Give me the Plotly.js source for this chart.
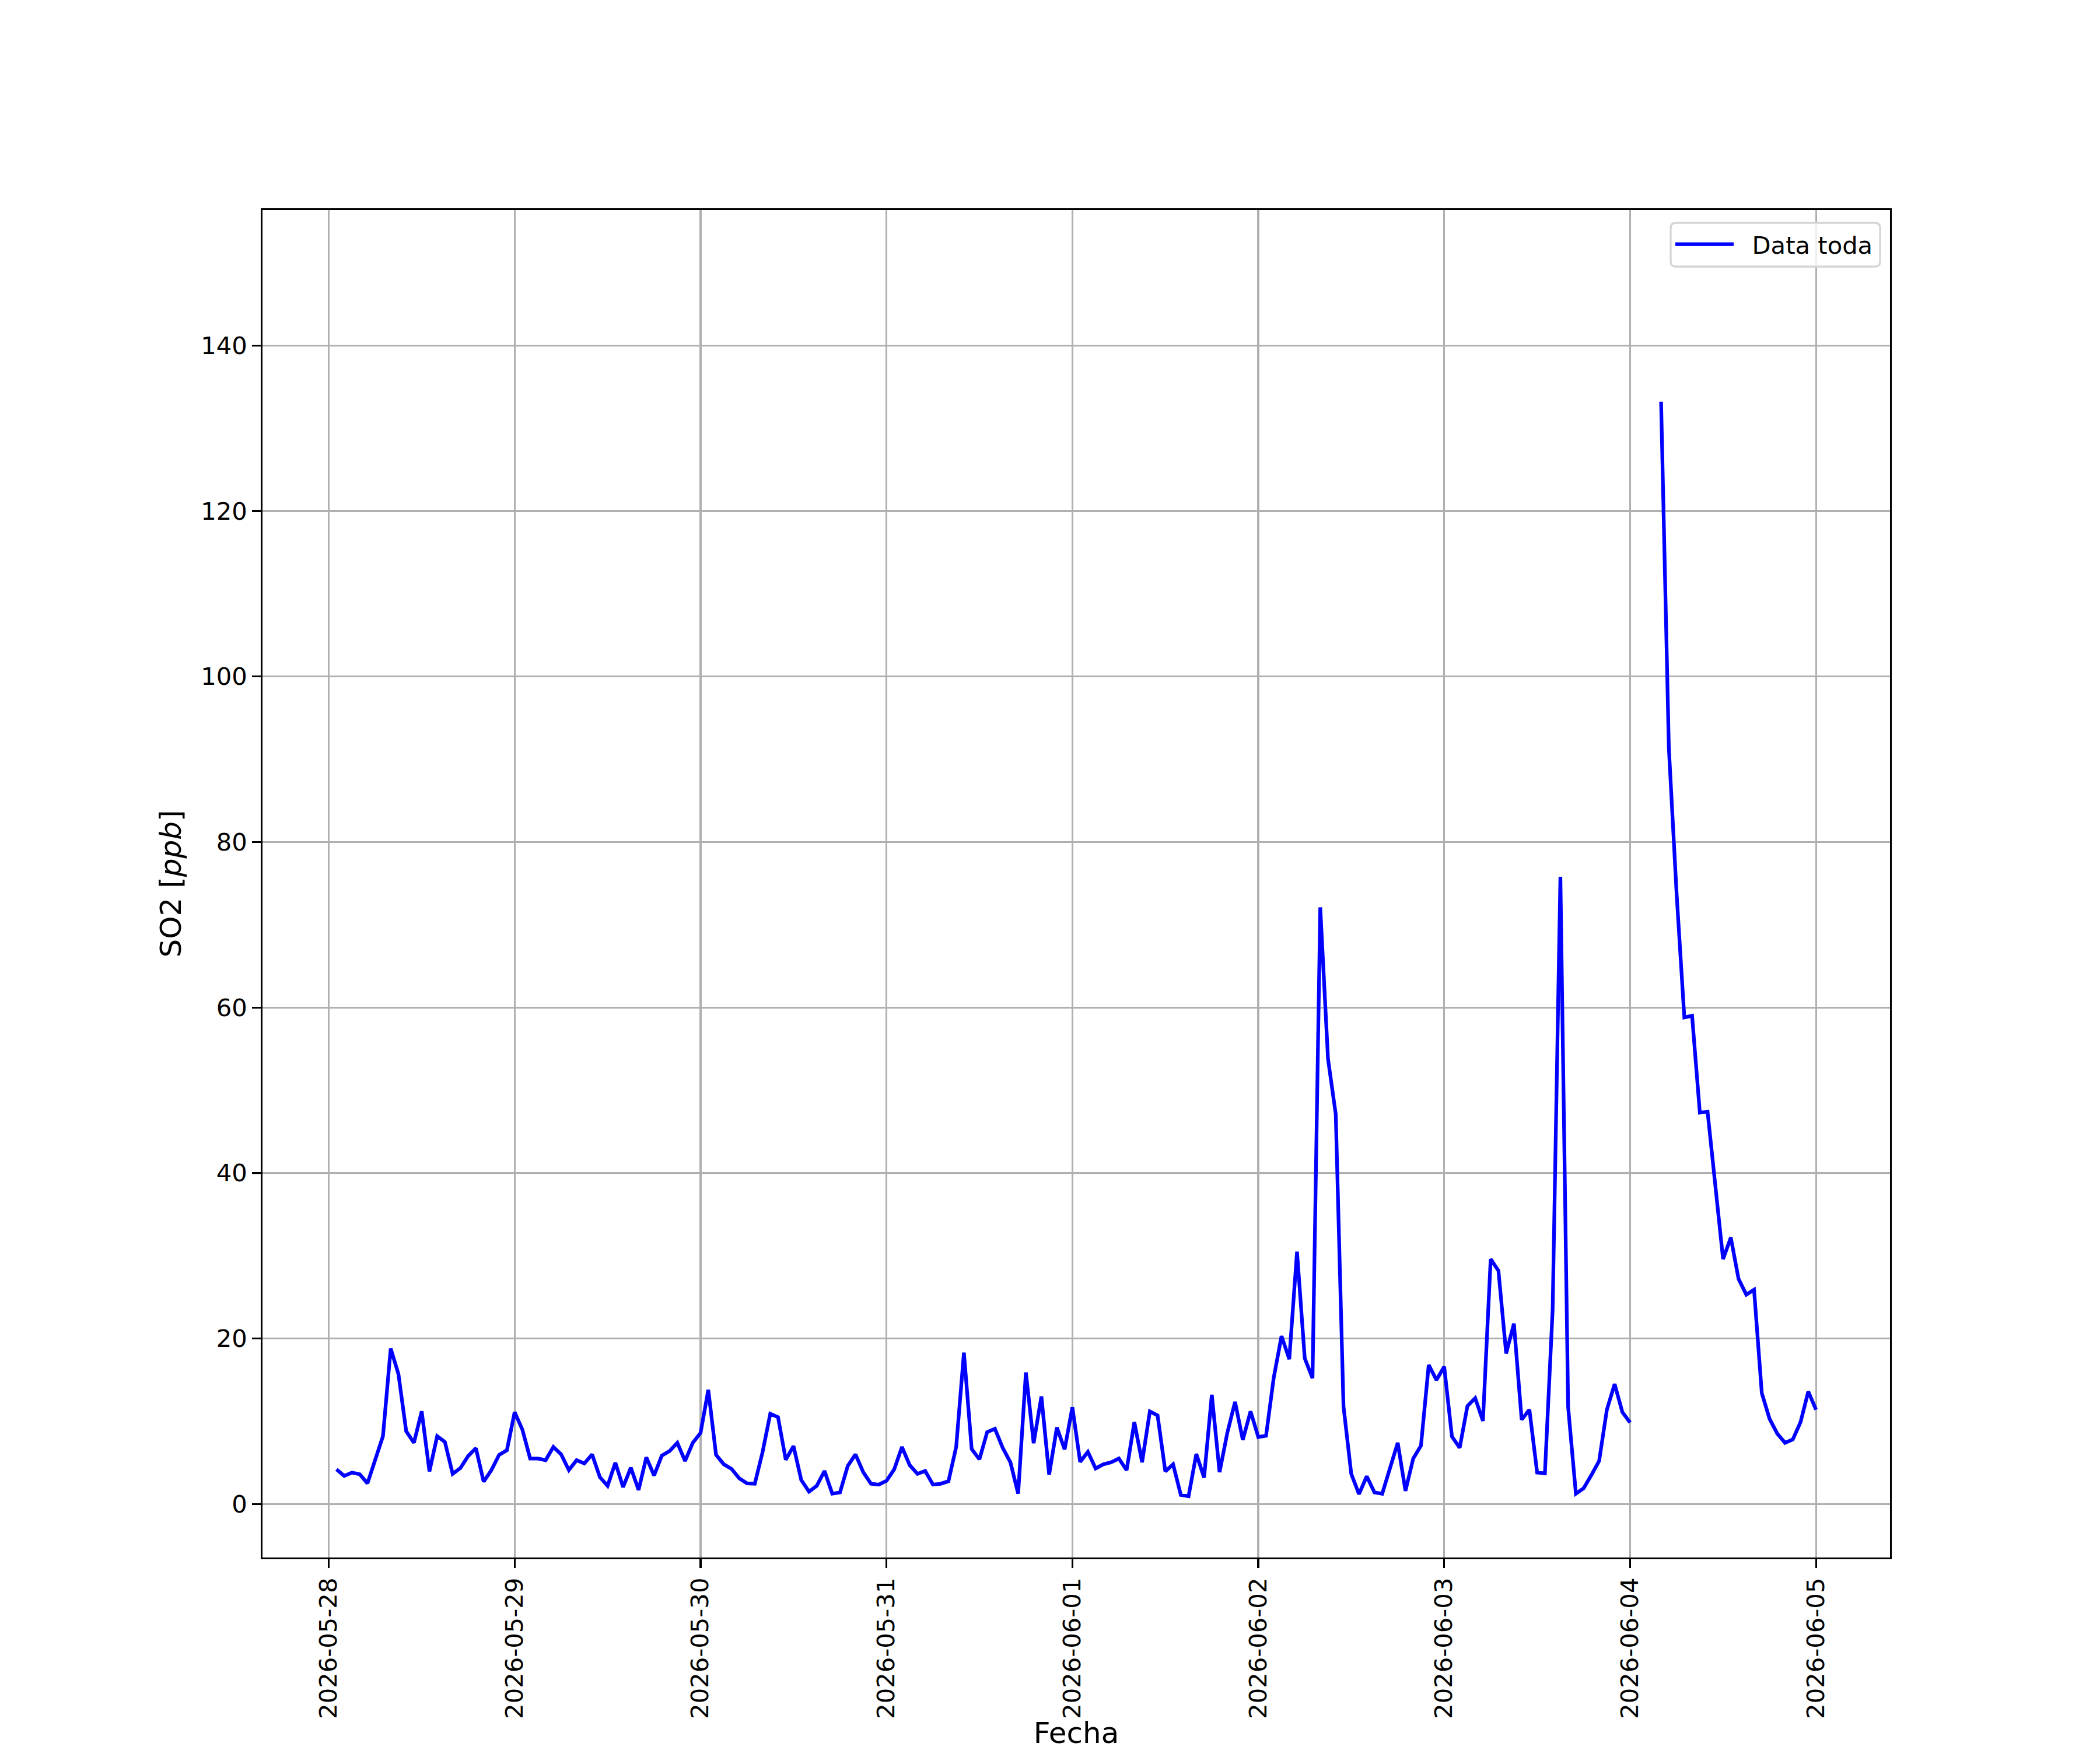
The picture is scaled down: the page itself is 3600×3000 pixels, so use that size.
<!DOCTYPE html>
<html>
<head>
<meta charset="utf-8">
<script src="https://cdn.plot.ly/plotly-3.0.1.min.js"></script>
<style>
  html, body { margin: 0; padding: 0; background: #ffffff; }
  #chart { width: 3600px; height: 3000px; }
</style>
</head>
<body>
<div id="chart"></div>
<script>
// Hourly SO2 readings [ppb]; first value is 2026-05-28 01:00, one value per hour.
const seriesStart = '2026-05-28T01:00:00';
const so2_0528 = [4.2, 3.4, 3.8, 3.6, 2.5, 5.5, 8.2, 18.8, 15.7, 8.8, 7.4, 11.2, 3.95, 8.2, 7.5, 3.65, 4.35, 5.8, 6.75, 2.7, 4.1, 5.95, 6.5];
const so2_0529 = [11.1, 9.0, 5.5, 5.5, 5.3, 6.9, 6.0, 4.1, 5.3, 4.9, 6.0, 3.25, 2.2, 5.0, 2.05, 4.4, 1.7, 5.65, 3.45, 5.85, 6.4, 7.4, 5.2, 7.4];
const so2_0530 = [8.6, 13.8, 5.95, 4.8, 4.25, 3.1, 2.5, 2.45, 6.25, 10.9, 10.5, 5.35, 7.0, 2.9, 1.5, 2.2, 4.0, 1.25, 1.4, 4.6, 6.0, 3.85, 2.45, 2.35];
const so2_0531 = [2.8, 4.2, 6.9, 4.7, 3.65, 4.0, 2.35, 2.45, 2.75, 6.9, 18.3, 6.65, 5.4, 8.7, 9.1, 6.8, 5.05, 1.25, 15.9, 7.35, 13.0, 3.55, 9.25, 6.6];
const so2_0601 = [11.7, 5.1, 6.3, 4.3, 4.8, 5.05, 5.5, 4.1, 9.9, 5.05, 11.2, 10.7, 3.95, 4.8, 1.1, 0.95, 6.05, 3.2, 13.2, 3.85, 8.6, 12.35, 7.75, 11.2];
const so2_0602 = [8.1, 8.25, 15.3, 20.3, 17.5, 30.5, 17.6, 15.2, 72.1, 53.8, 47.1, 11.8, 3.65, 1.2, 3.35, 1.4, 1.25, 4.45, 7.4, 1.6, 5.5, 7.05, 16.8, 15.0];
const so2_0603 = [16.6, 8.15, 6.8, 11.85, 12.8, 10.05, 29.6, 28.2, 18.2, 21.8, 10.2, 11.4, 3.8, 3.7, 23.5, 75.8, 11.7, 1.25, 1.9, 3.5, 5.2, 11.4, 14.5, 11.1];
const so2_0604 = [9.85, null, null, null, 133.2, 91.4, 73.8, 58.8, 59.0, 47.3, 47.4, 38.5, 29.6, 32.2, 27.2, 25.3, 25.9, 13.4, 10.3, 8.5, 7.4, 7.8, 9.9, 13.6];
const so2_0605 = [11.4];

const tickDates = ['2026-05-28', '2026-05-29', '2026-05-30', '2026-05-31', '2026-06-01', '2026-06-02', '2026-06-03', '2026-06-04', '2026-06-05'];
const yTicks = [0, 20, 40, 60, 80, 100, 120, 140];

const values = [].concat(so2_0528, so2_0529, so2_0530, so2_0531, so2_0601, so2_0602, so2_0603, so2_0604, so2_0605);

function pad(n) { return (n < 10 ? '0' : '') + n; }
const t0 = new Date(seriesStart + 'Z').getTime();
const times = values.map(function (_, i) {
  const d = new Date(t0 + i * 3600000);
  return d.getUTCFullYear() + '-' + pad(d.getUTCMonth() + 1) + '-' + pad(d.getUTCDate()) +
         ' ' + pad(d.getUTCHours()) + ':00:00';
});

const FONT = 'DejaVu Sans, Liberation Sans, sans-serif';
const FS = 41.7;     // tick / legend text
const FS_LAB = 50;   // axis labels

// plot-area geometry (px) used to place the legend frame
const PW = 2790, PH = 2310;
function px2x(p) { return (p - 450) / PW; }
function px2y(p) { return 1 - (p - 360) / PH; }

// rounded legend frame
const bx0 = px2x(2864), bx1 = px2x(3223), by0 = px2y(457), by1 = px2y(382);
const rx = 9 / PW, ry = 9 / PH;
const framePath =
  'M' + (bx0 + rx) + ',' + by1 +
  ' L' + (bx1 - rx) + ',' + by1 +
  ' Q' + bx1 + ',' + by1 + ' ' + bx1 + ',' + (by1 - ry) +
  ' L' + bx1 + ',' + (by0 + ry) +
  ' Q' + bx1 + ',' + by0 + ' ' + (bx1 - rx) + ',' + by0 +
  ' L' + (bx0 + rx) + ',' + by0 +
  ' Q' + bx0 + ',' + by0 + ' ' + bx0 + ',' + (by0 + ry) +
  ' L' + bx0 + ',' + (by1 - ry) +
  ' Q' + bx0 + ',' + by1 + ' ' + (bx0 + rx) + ',' + by1 + ' Z';

const trace = {
  x: times,
  y: values,
  type: 'scatter',
  mode: 'lines',
  name: '\u00a0\u00a0Data toda',
  connectgaps: false,
  line: { color: '#0000ff', width: 6.25 }
};

const layout = {
  width: 3600,
  height: 3000,
  margin: { l: 450, r: 360, t: 360, b: 330, pad: 0 },
  paper_bgcolor: '#ffffff',
  plot_bgcolor: '#ffffff',
  font: { family: FONT, size: FS, color: '#000000' },
  showlegend: true,
  legend: {
    x: px2x(2867),
    y: px2y(419),
    xanchor: 'left',
    yanchor: 'middle',
    bgcolor: 'rgba(255,255,255,0)',
    borderwidth: 0,
    font: { family: FONT, size: FS, color: '#000000' },
    itemwidth: 100
  },
  shapes: [{
    type: 'path',
    xref: 'paper',
    yref: 'paper',
    path: framePath,
    fillcolor: 'rgba(255,255,255,0.8)',
    line: { color: '#d5d5d5', width: 3.3 },
    layer: 'above'
  }],
  xaxis: {
    type: 'date',
    range: ['2026-05-27 15:27:00', '2026-06-05 09:33:00'],
    tickvals: tickDates,
    ticktext: tickDates,
    tickangle: -90,
    ticks: 'outside',
    ticklen: 14.6,
    tickwidth: 3.3,
    tickcolor: '#000000',
    tickfont: { family: FONT, size: FS, color: '#000000' },
    showgrid: true,
    gridcolor: '#b0b0b0',
    gridwidth: 3.3,
    zeroline: false,
    showline: true,
    linecolor: '#000000',
    linewidth: 3.3,
    mirror: true,
    automargin: false,
    title: { text: 'Fecha', font: { family: FONT, size: FS_LAB, color: '#000000' }, standoff: 14 }
  },
  yaxis: {
    range: [-6.46, 156.37],
    tickvals: yTicks,
    ticktext: yTicks.map(String),
    ticks: 'outside',
    ticklen: 14.6,
    tickwidth: 3.3,
    tickcolor: '#000000',
    tickfont: { family: FONT, size: FS, color: '#000000' },
    showgrid: true,
    gridcolor: '#b0b0b0',
    gridwidth: 3.3,
    zeroline: false,
    showline: true,
    linecolor: '#000000',
    linewidth: 3.3,
    mirror: true,
    automargin: false,
    title: { text: 'SO2 [<i>ppb</i>]', font: { family: FONT, size: FS_LAB, color: '#000000' }, standoff: 18 }
  }
};

Plotly.newPlot('chart', [trace], layout, { staticPlot: true, displayModeBar: false });
</script>
</body>
</html>
